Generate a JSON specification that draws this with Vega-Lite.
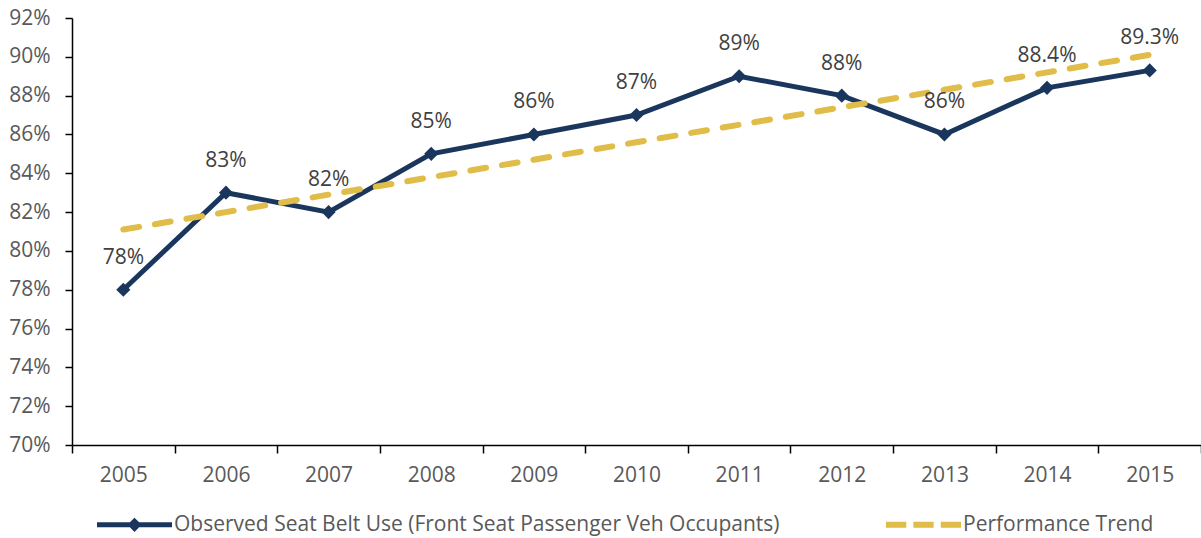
{
  "$schema": "https://vega.github.io/schema/vega-lite/v6.json",
  "autosize": "none",
  "width": 1129,
  "height": 427,
  "padding": {"left": 72, "top": 18, "right": 0, "bottom": 93},
  "background": "white",
  "config": {
    "view": {"stroke": null},
    "font": "Open Sans",
    "text": {"font": "Open Sans"}
  },
  "data": {
    "values": [
      {"year": "2005", "series": "Observed Seat Belt Use (Front Seat Passenger Veh Occupants)", "value": 78, "label": "78%"},
      {"year": "2006", "series": "Observed Seat Belt Use (Front Seat Passenger Veh Occupants)", "value": 83, "label": "83%"},
      {"year": "2007", "series": "Observed Seat Belt Use (Front Seat Passenger Veh Occupants)", "value": 82, "label": "82%"},
      {"year": "2008", "series": "Observed Seat Belt Use (Front Seat Passenger Veh Occupants)", "value": 85, "label": "85%"},
      {"year": "2009", "series": "Observed Seat Belt Use (Front Seat Passenger Veh Occupants)", "value": 86, "label": "86%"},
      {"year": "2010", "series": "Observed Seat Belt Use (Front Seat Passenger Veh Occupants)", "value": 87, "label": "87%"},
      {"year": "2011", "series": "Observed Seat Belt Use (Front Seat Passenger Veh Occupants)", "value": 89, "label": "89%"},
      {"year": "2012", "series": "Observed Seat Belt Use (Front Seat Passenger Veh Occupants)", "value": 88, "label": "88%"},
      {"year": "2013", "series": "Observed Seat Belt Use (Front Seat Passenger Veh Occupants)", "value": 86, "label": "86%"},
      {"year": "2014", "series": "Observed Seat Belt Use (Front Seat Passenger Veh Occupants)", "value": 88.4, "label": "88.4%"},
      {"year": "2015", "series": "Observed Seat Belt Use (Front Seat Passenger Veh Occupants)", "value": 89.3, "label": "89.3%"},
      {"year": "2005", "series": "Performance Trend", "value": 81.1},
      {"year": "2006", "series": "Performance Trend", "value": 82.0},
      {"year": "2007", "series": "Performance Trend", "value": 82.9},
      {"year": "2008", "series": "Performance Trend", "value": 83.8},
      {"year": "2009", "series": "Performance Trend", "value": 84.7},
      {"year": "2010", "series": "Performance Trend", "value": 85.6},
      {"year": "2011", "series": "Performance Trend", "value": 86.5},
      {"year": "2012", "series": "Performance Trend", "value": 87.4},
      {"year": "2013", "series": "Performance Trend", "value": 88.3},
      {"year": "2014", "series": "Performance Trend", "value": 89.2},
      {"year": "2015", "series": "Performance Trend", "value": 90.1}
    ]
  },
  "encoding": {
    "x": {
      "field": "year",
      "type": "ordinal",
      "scale": {"type": "band", "paddingInner": 0, "paddingOuter": 0},
      "axis": {
        "title": null,
        "labelAngle": 0,
        "labelFontSize": 21,
        "labelColor": "#595959",
        "labelPadding": 11,
        "tickBand": "extent",
        "tickSize": 8,
        "tickColor": "#000000",
        "tickWidth": 1.5,
        "domainColor": "#000000",
        "domainWidth": 1.5,
        "grid": false
      }
    },
    "y": {
      "field": "value",
      "type": "quantitative",
      "scale": {"domain": [70, 92], "nice": false, "zero": false},
      "axis": {
        "title": null,
        "values": [70, 72, 74, 76, 78, 80, 82, 84, 86, 88, 90, 92],
        "labelExpr": "datum.value + '%'",
        "labelFontSize": 21,
        "labelColor": "#595959",
        "labelPadding": 15,
        "tickSize": 7,
        "tickColor": "#000000",
        "tickWidth": 1.5,
        "domainColor": "#000000",
        "domainWidth": 1.5,
        "grid": false
      }
    }
  },
  "layer": [
    {
      "transform": [{"filter": "datum.series !== 'Performance Trend'"}],
      "mark": {"type": "line", "strokeWidth": 5},
      "encoding": {
        "color": {
          "field": "series",
          "type": "nominal",
          "scale": {
            "domain": ["Observed Seat Belt Use (Front Seat Passenger Veh Occupants)", "Performance Trend"],
            "range": ["#1B365D", "#E0BC48"]
          },
          "legend": {
            "title": null,
            "orient": "none",
            "direction": "horizontal",
            "legendX": 25,
            "legendY": 469,
            "padding": 0,
            "columnPadding": 106,
            "symbolSize": 5625,
            "labelFontSize": 21,
            "labelColor": "#595959",
            "labelLimit": 800,
            "labelOffset": 2,
            "encode": {
              "symbols": {
                "update": {
                  "shape": {"signal": "datum.value === 'Performance Trend' ? 'M-1,-0.08H-0.46V0.08H-1Z M-0.27,-0.08H0.27V0.08H-0.27Z M0.46,-0.08H1V0.08H0.46Z' : 'M-1,-0.067L-0.123,-0.067L0,-0.19L0.123,-0.067L1,-0.067L1,0.067L0.123,0.067L0,0.19L-0.123,0.067L-1,0.067Z'"},
                  "fill": {"signal": "datum.value === 'Performance Trend' ? '#E0BC48' : '#1B365D'"},
                  "stroke": {"value": "transparent"},
                  "strokeWidth": {"value": 0},
                  "opacity": {"value": 1}
                }
              }
            }
          }
        }
      }
    },
    {
      "transform": [{"filter": "datum.series !== 'Performance Trend'"}],
      "mark": {"type": "point", "shape": "diamond", "filled": true, "size": 200, "color": "#1B365D", "opacity": 1},
      "encoding": {}
    },
    {
      "transform": [{"filter": "datum.series === 'Performance Trend'"}],
      "mark": {"type": "line", "strokeWidth": 6, "strokeDash": [16, 16], "strokeCap": "round"},
      "encoding": {
        "color": {"field": "series", "type": "nominal"}
      }
    },
    {
      "transform": [{"filter": "datum.series !== 'Performance Trend'"}],
      "mark": {"type": "text", "dy": -32, "fontSize": 21, "color": "#404040", "baseline": "middle", "align": "center"},
      "encoding": {
        "text": {"field": "label", "type": "nominal"}
      }
    }
  ]
}
